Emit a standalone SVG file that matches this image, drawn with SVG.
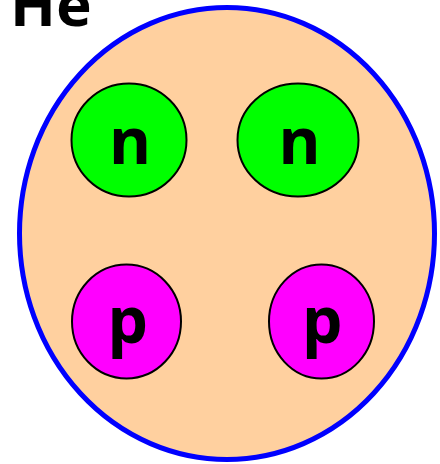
<svg xmlns="http://www.w3.org/2000/svg" width="440" height="464" viewBox="0 0 440 464">
  <style>
    .lbl { font-family: "Noto Sans", "Open Sans", "Liberation Sans", sans-serif; font-weight: 700; fill: #000; }
    .part { stroke: #000; stroke-width: 2; }
    .neutron { fill: #00FF00; }
    .proton { fill: #FF00FF; }
  </style>
  <rect width="440" height="464" fill="#ffffff"/>
  <g id="title">
    <text class="lbl" x="10" y="26" font-size="60">He</text>
  </g>
  <g id="nucleus">
    <ellipse cx="227" cy="233.5" rx="207.5" ry="226" fill="#FFD09F" stroke="#0000FF" stroke-width="5"/>
  </g>
  <g id="neutron1">
    <ellipse class="part neutron" cx="129" cy="140" rx="57.5" ry="56.5"/>
    <text class="lbl" x="130" y="164" font-size="64" text-anchor="middle">n</text>
  </g>
  <g id="neutron2">
    <ellipse class="part neutron" cx="298" cy="140" rx="60.5" ry="56.5"/>
    <text class="lbl" x="299.5" y="164" font-size="64" text-anchor="middle">n</text>
  </g>
  <g id="proton1">
    <ellipse class="part proton" cx="126.5" cy="321.5" rx="54.5" ry="57"/>
    <text class="lbl" x="128" y="343" font-size="64" text-anchor="middle">p</text>
  </g>
  <g id="proton2">
    <ellipse class="part proton" cx="321.5" cy="321.5" rx="52.5" ry="57"/>
    <text class="lbl" x="322.5" y="343" font-size="64" text-anchor="middle">p</text>
  </g>
  <g id="connectors"></g>
</svg>
